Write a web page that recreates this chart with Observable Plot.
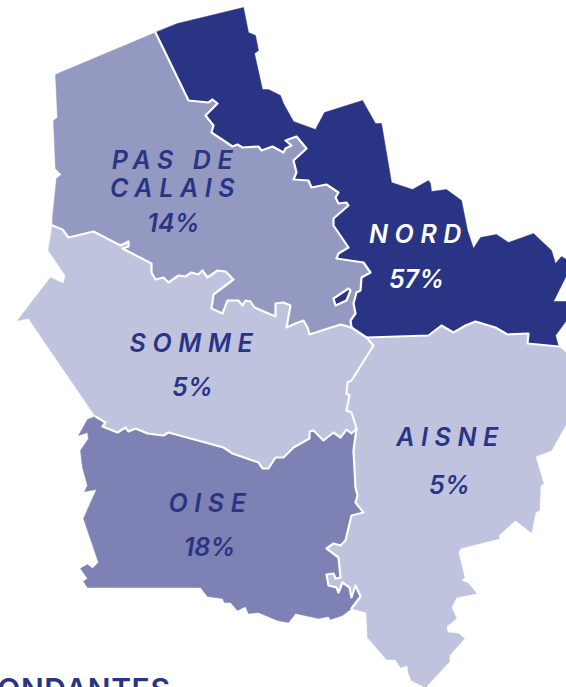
<!DOCTYPE html>
<html>
<head>
<meta charset="utf-8">
<script src="https://cdn.jsdelivr.net/npm/d3@7"></script>
<script src="https://cdn.jsdelivr.net/npm/@observablehq/plot@0.6"></script>
<style>
html,body{margin:0;padding:0;background:#fff;overflow:hidden}
svg{display:block}
.dept text{letter-spacing:6.6px}
.foot text{letter-spacing:0.6px}
</style>
</head>
<body>
<div id="chart"></div>
<script>
// shared borders
const borderNordPas = [[155,32],[188,100],[208,102],[212,99],[217,103],[205,115],[213,125],[211,132],[232,146],[237,144],[242,147],[258,146],[261,150],[272,146],[283,152],[285,148],[291,145],[285,140],[296,136],[306,148],[293,160],[296,172],[293,179],[308,180],[311,187],[326,184],[338,192],[335,197],[338,203],[346,202],[348,205],[333,218],[333,225],[348,247],[338,253],[336,258],[363,262],[370,272],[361,277],[360,290],[356,292],[353,303],[355,313],[350,320],[351,327]];
const borderPasSomme = [[52,225],[62,229],[68,237],[93,231],[120,245],[128,241],[128,246],[122,248],[151,263],[151,272],[155,279],[163,277],[168,282],[178,275],[185,276],[191,272],[198,274],[202,270],[207,277],[217,270],[225,271],[233,279],[213,294],[211,308],[222,313],[227,300],[238,300],[242,305],[245,300],[250,301],[254,307],[275,316],[275,303],[283,302],[290,305],[286,327],[295,323],[303,320],[307,327],[309,334],[340,324],[351,327]];
const borderSommeNord = [[351,327],[366,337]];
const borderNordAisne = [[366,337],[428,335],[441,325],[453,332],[465,325],[475,321],[495,327],[507,334],[528,333],[527,343],[558,346]];
const borderSommeAisne = [[366,337],[373,345],[351,380],[347,382],[346,393],[349,395],[346,410],[351,412],[356,428]];
const borderSommeOise = [[95,416],[105,422],[102,426],[117,432],[125,427],[128,431],[135,428],[147,433],[163,435],[168,432],[223,447],[232,453],[258,462],[262,468],[268,468],[275,457],[283,457],[293,447],[309,438],[309,431],[313,430],[323,440],[333,432],[340,437],[346,429],[351,433],[356,428]];
const borderOiseAisne = [[356,428],[353,450],[355,487],[357,495],[355,502],[363,512],[351,515],[345,540],[340,545],[333,543],[326,548],[338,557],[340,577],[335,578],[333,573],[326,574],[328,585],[336,587],[338,592],[342,582],[349,587],[351,597],[355,585],[360,596],[351,608]];
// outer coast and frontier pieces
const coastPas = [[55,74],[57,117],[53,120],[55,168],[61,174],[56,178],[52,217]];
const outerNord = [[177,23],[243,7],[248,32],[255,35],[258,50],[254,53],[262,89],[268,89],[280,95],[283,103],[293,121],[315,129],[324,112],[362,100],[375,123],[381,123],[391,182],[412,189],[428,180],[430,183],[431,191],[446,189],[461,200],[467,230],[473,248],[480,237],[496,234],[508,242],[533,233],[551,250],[555,263],[561,256],[566,259],[566,275],[553,301],[566,301],[566,320],[555,335]];
const coastSomme = [[48,250],[65,275],[63,283],[50,277],[17,320],[28,318]];
const outerAisne = [[563,350],[566,353],[566,423],[551,450],[535,456],[543,483],[540,485],[539,510],[535,512],[531,532],[515,520],[498,535],[499,538],[460,548],[458,552],[464,577],[461,580],[468,583],[476,593],[456,597],[451,607],[456,618],[446,626],[447,632],[458,633],[464,638],[449,655],[449,661],[425,687],[411,680],[408,673],[407,665],[400,667],[395,659],[386,659],[367,637],[366,612]];
const outerOise = [[87,419],[82,428],[78,435],[87,432],[88,438],[80,450],[82,467],[87,485],[84,491],[96,489],[83,518],[98,562],[92,568],[87,564],[80,568],[87,578],[83,581],[87,587],[200,587],[207,596],[222,598],[224,602],[230,602],[237,610],[245,606],[248,613],[258,612],[277,620],[288,622],[295,613],[318,618],[328,616],[330,619],[342,615]];
const enclave = [[333,298],[348,288],[350,290],[346,300],[335,305]];

const rev = a => [...a].reverse();
const regions = [
  {name:"oise", fill:"#7d81b3", shape:[...outerOise,...rev(borderOiseAisne),...rev(borderSommeOise)]},
  {name:"somme", fill:"#bfc3dd", shape:[...coastSomme,...borderSommeOise,...rev(borderSommeAisne),...rev(borderSommeNord),...rev(borderPasSomme)]},
  {name:"aisne", fill:"#bfc3dd", shape:[...borderNordAisne,...outerAisne,...rev(borderOiseAisne),...rev(borderSommeAisne)]},
  {name:"pas", fill:"#9499c2", shape:[...rev(coastPas),...borderNordPas,...rev(borderPasSomme)]},
  {name:"nord", fill:"#293485", shape:[...outerNord,...rev(borderNordAisne),...rev(borderSommeNord),...rev(borderNordPas)]},
  {name:"enclave", fill:"#293485", shape:enclave}
];
const points = regions.flatMap(r => r.shape.map(([x,y]) => ({x,y,z:r.name,fill:r.fill})));

const borders = {borderNordPas,borderPasSomme,borderSommeNord,borderNordAisne,borderSommeAisne,borderSommeOise,borderOiseAisne};
const borderPoints = Object.entries(borders).flatMap(([z,a]) => a.map(([x,y]) => ({x,y,z})));
const enclavePoints = enclave.map(([x,y]) => ({x,y}));

const deptNames = ["PAS DE\nCALAIS","NORD","SOMME","AISNE","OISE"];
const deptX = [175,418,194,450,210];
const deptY = [174,234,343,437,503];
const deptColor = ["#293485","#ffffff","#293485","#293485","#293485"];
const pctLabels = ["14%","57%","5%","5%","18%"];
const pctX = [173,416,192,449,209];
const pctY = [223,279,387,485,547];

const depts = deptNames.map((t,i)=>({t,x:deptX[i],y:deptY[i],c:deptColor[i]}));
const pcts = pctLabels.map((t,i)=>({t,x:pctX[i],y:pctY[i],c:deptColor[i]}));
const foot = [{t:"RÉPONDANTES",x:170,y:690}];

const font = "Inter, sans-serif";
const chart = Plot.plot({
  width:566, height:687, margin:0,
  x:{domain:[0,566],range:[0,566],axis:null},
  y:{domain:[0,687],range:[0,687],axis:null},
  style:{background:"transparent",overflow:"hidden"},
  marks:[
    Plot.line(points,{x:"x",y:"y",z:"z",fill:"fill",stroke:"fill",strokeWidth:0.5,curve:"linear-closed"}),
    Plot.line(borderPoints,{x:"x",y:"y",z:"z",stroke:"#fff",strokeWidth:2.2,strokeLinejoin:"round",strokeLinecap:"round"}),
    Plot.line(enclavePoints,{x:"x",y:"y",stroke:"#fff",strokeWidth:2.2,curve:"linear-closed"}),
    Plot.text(depts,{x:"x",y:"y",text:"t",fill:"c",fontFamily:font,fontSize:25,fontStyle:"italic",fontWeight:600,lineHeight:1.12,className:"dept"}),
    Plot.text(pcts,{x:"x",y:"y",text:"t",fill:"c",fontFamily:font,fontSize:25,fontStyle:"italic",fontWeight:600}),
    Plot.text(foot,{x:"x",y:"y",text:"t",fill:"#293485",fontFamily:font,fontSize:30,fontWeight:600,textAnchor:"end",className:"foot"})
  ]
});
document.getElementById("chart").append(chart);
</script>
</body>
</html>
